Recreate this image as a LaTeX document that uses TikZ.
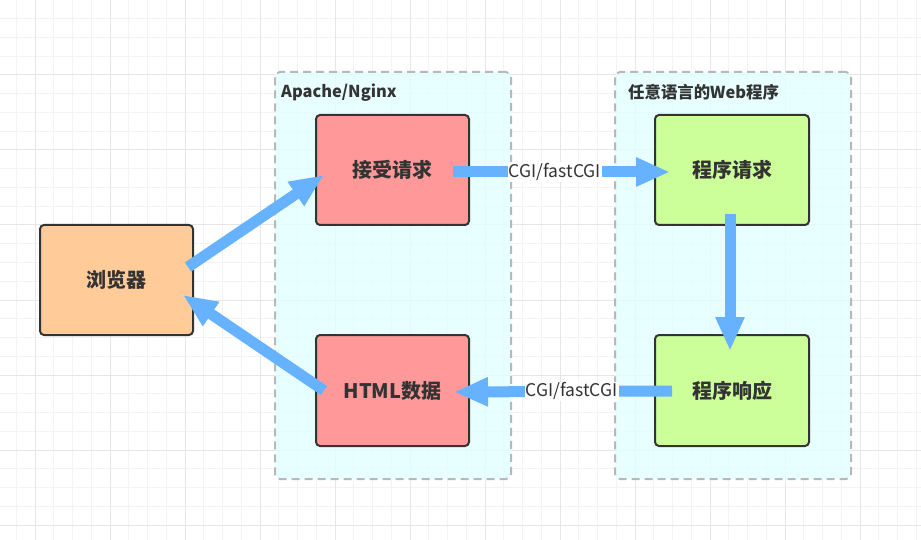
\documentclass[tikz,border=0pt]{standalone}
\usepackage{fontspec}
\setmainfont{Noto Sans CJK SC}
\usetikzlibrary{arrows.meta,calc}
\definecolor{txt}{HTML}{333333}
\definecolor{gridminor}{HTML}{F3F3F3}
\definecolor{gridmajor}{HTML}{E6E6E6}
\definecolor{contfill}{HTML}{E3FFFF}
\definecolor{contline}{HTML}{B8B8B8}
\definecolor{orangebox}{HTML}{FFCC99}
\definecolor{redbox}{HTML}{FF9999}
\definecolor{greenbox}{HTML}{CCFF99}
\definecolor{arrowblue}{HTML}{66B2FF}
\tikzset{
  container/.style={draw=contline, fill=contfill, fill opacity=0.8, draw opacity=1, line width=2pt,
    dash pattern=on 8pt off 5pt, rounded corners=5pt, anchor=north west, inner sep=0pt},
  ctitle/.style={text=txt, font=\bfseries\fontsize{16.4}{19}\selectfont, anchor=west, inner sep=0pt},
  procbox/.style={draw=txt, line width=2pt, rounded corners=4pt, text=txt,
    font=\bfseries\fontsize{20}{23}\selectfont, minimum width=153pt, minimum height=110pt, inner sep=0pt},
  flow/.style={draw=arrowblue, line width=11pt, -{Triangle[length=34pt,width=27pt]}},
  lbl/.style={fill=white, text=txt, font=\fontsize{17.5}{20}\selectfont, inner sep=1pt}
}
\begin{document}
\begin{tikzpicture}[x=1pt,y=-1pt]
\useasboundingbox (0,0) rectangle (921,540);
\fill[white] (0,0) rectangle (921,540);
% grid
\foreach \i in {0,...,50} {
  \draw[gridminor, line width=1pt] ({-2.5+18.75*\i},0) -- ({-2.5+18.75*\i},540);
}
\foreach \j in {0,...,29} {
  \draw[gridminor, line width=1pt] (0,{18.75*\j}) -- (921,{18.75*\j});
}
\foreach \i in {0,...,12} {
  \draw[gridmajor, line width=1pt] ({35+75*(\i-1)},0) -- ({35+75*(\i-1)},540);
}
\foreach \j in {0,...,7} {
  \draw[gridmajor, line width=1pt] (0,{75*\j}) -- (921,{75*\j});
}
% containers
\node[container, minimum width=236pt, minimum height=407pt] (apache) at (274,71) {};
\node[container, minimum width=236pt, minimum height=407pt] (webapp) at (614,71) {};
\node[ctitle] (apachetitle) at (281,93) {Apache/Nginx};
\node[ctitle] (webtitle) at (628,92) {任意语言的Web程序};
% boxes
\node[procbox, fill=orangebox] (browser) at (116.5,280) {浏览器};
\node[procbox, fill=redbox] (req) at (392.5,170) {接受请求};
\node[procbox, fill=redbox, minimum height=111pt] (html) at (392.5,390.5) {HTML数据};
\node[procbox, fill=greenbox, minimum width=154pt] (preq) at (732,170) {程序请求};
\node[procbox, fill=greenbox, minimum width=154pt, minimum height=111pt] (presp) at (732,390.5) {程序响应};
% arrows
\draw[flow] ($(browser.east)+(-6,-13)$) -- ($(req.west)+(9,5)$);
\draw[flow] ($(html.west)+(9,0)$) -- ($(browser.east)+(-11,15)$);
\draw[flow] ($(req.east)+(-17,2)$) -- node[lbl, pos=0.47] (cgi1) {CGI/fastCGI} ($(preq.west)+(16,2)$);
\draw[flow] ($(preq.south)+(-2,-12)$) -- ($(presp.north)+(-2,17)$);
\draw[flow] ($(presp.west)+(18,0.5)$) -- node[lbl, pos=0.46] (cgi2) {CGI/fastCGI} ($(html.east)+(-16,1.5)$);
\end{tikzpicture}
\end{document}
